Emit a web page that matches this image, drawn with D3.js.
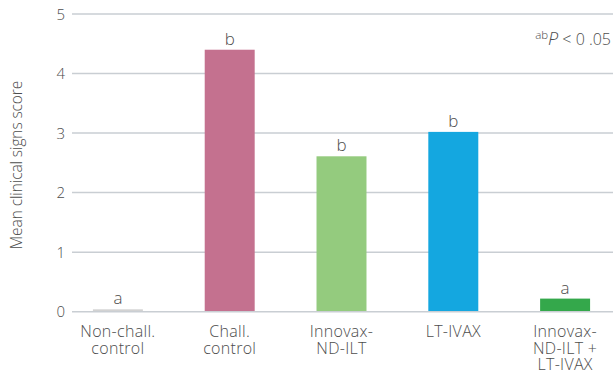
<!DOCTYPE html>
<html><head><meta charset="utf-8">
<script src="https://cdn.jsdelivr.net/npm/d3@7"></script>
<style>body{margin:0;background:#fff}text{font-family:"Open Sans",sans-serif;font-weight:300;fill:#4d4d4d}</style>
</head><body><svg id="c" width="613" height="374"></svg>
<script>
const categories = [["Non-chall.","control"],["Chall.","control"],["Innovax-","ND-ILT"],["LT-IVAX"],["Innovax-","ND-ILT +","LT-IVAX"]];
const values = [0.04, 4.40, 2.61, 3.02, 0.22];
const letters = ["a","b","b","b","a"];
const colors = ["#d2d2d2","#c4718f","#94cb7e","#14a7e0","#34a84b"];
const yTicks = [0,1,2,3,4,5];

const svg = d3.select("#c");
const x = d3.scaleBand().domain(d3.range(values.length)).range([62, 621]).paddingInner(0.553).paddingOuter(0.2765);
const y = d3.scaleLinear().domain([0,5]).range([311.7, 14]);

svg.append("g").selectAll("line").data(yTicks).join("line")
  .attr("x1",72).attr("x2",613).attr("y1",d=>y(d)).attr("y2",d=>y(d))
  .attr("stroke","#c9ced3").attr("stroke-width",1.5);
svg.append("g").selectAll("text").data(yTicks).join("text")
  .attr("x",65).attr("y",d=>y(d)+5.5).attr("text-anchor","end").attr("font-size",15).text(d=>d);

svg.append("g").selectAll("rect").data(values).join("rect")
  .attr("x",(d,i)=>x(i)).attr("width",x.bandwidth())
  .attr("y",d=>y(d)).attr("height",d=>y(0)-y(d)-0.7).attr("fill",(d,i)=>colors[i]);

svg.append("g").selectAll("text").data(values).join("text")
  .attr("x",(d,i)=>x(i)+x.bandwidth()/2).attr("y",d=>y(d)-5)
  .attr("text-anchor","middle").attr("font-size",17).text((d,i)=>letters[i]);

const cat = svg.append("g").selectAll("text").data(categories).join("text")
  .attr("text-anchor","middle").attr("font-size",16).attr("letter-spacing",0.3)
  .attr("transform",(d,i)=>`translate(${x(i)+x.bandwidth()/2},337)`);
cat.selectAll("tspan").data(d=>d).join("tspan").attr("x",0).attr("dy",(d,j)=>j?16.5:0).text(d=>d);

svg.append("text").attr("transform","translate(22,165) rotate(-90)").attr("text-anchor","middle")
  .attr("font-size",15.5).attr("letter-spacing",-0.1).text("Mean clinical signs score");

const p = svg.append("text").attr("x",611).attr("y",45).attr("text-anchor","end").attr("font-size",16);
p.append("tspan").attr("font-size",11.5).attr("dy",-6).text("ab");
p.append("tspan").attr("font-style","italic").attr("dy",6).attr("font-size",18).text("P");
p.append("tspan").text(" < 0 .05");
</script></body></html>
